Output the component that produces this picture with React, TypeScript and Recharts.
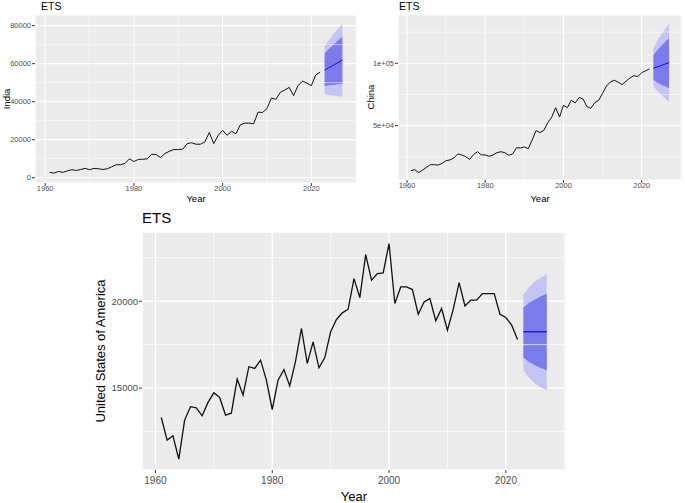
import React from 'react';
import {
  ComposedChart,
  Line,
  Area,
  XAxis,
  YAxis,
  CartesianGrid,
  ReferenceLine,
} from 'recharts';

// history 1961..2022, forecast 2023..2027
const histYears = Array.from({ length: 62 }, (_, i) => 1961 + i);
const forecastYears = [2023, 2024, 2025, 2026, 2027];

const xTicks = [1960, 1980, 2000, 2020];
const xMinor = [1970, 1990, 2010, 2030];

const indiaValues = [
  2800, 2400, 3300, 2800, 3600, 4200, 3800, 4300, 4900, 4200,
  4900, 4700, 4300, 4700, 5700, 6800, 6800, 7500, 9900, 8500,
  9600, 9700, 9900, 12300, 12200, 10600, 12700, 13900, 14800, 14800,
  15000, 17900, 18400, 17600, 17600, 18800, 23800, 17900, 22300, 24900,
  22300, 24400, 23100, 27800, 28700, 28700, 28400, 34500, 34300, 36400,
  41900, 41200, 44900, 46100, 47500, 43200, 48400, 50800, 49800, 48400,
  54100, 55500,
];
const indiaMean = [56600, 57900, 59200, 60600, 61900];
const indiaLo80 = [48200, 48600, 48900, 49100, 49300];
const indiaHi80 = [65400, 67800, 70000, 72200, 74200];
const indiaLo95 = [43900, 43500, 43200, 42900, 42600];
const indiaHi95 = [69300, 72500, 75500, 78300, 80900];
const indiaTicks = [0, 20000, 40000, 60000, 80000];
const indiaMinor = [10000, 30000, 50000, 70000];

const chinaValues = [
  13900, 14700, 12300, 14400, 16600, 18700, 18700, 18400, 19800, 21900,
  22500, 24100, 27300, 26500, 25100, 23000, 26700, 29100, 26500, 26500,
  25400, 26500, 28300, 29100, 28300, 26200, 27300, 32300, 32100, 32900,
  31500, 38500, 46000, 44400, 46300, 52400, 56900, 64400, 56900, 66300,
  64400, 70300, 68200, 72500, 71400, 65200, 63900, 68400, 70300, 75900,
  81800, 85000, 86400, 84800, 82900, 85600, 88200, 90100, 89300, 92500,
  93900, 95500,
];
const chinaMean = [96000, 97100, 98200, 99400, 100500];
const chinaLo80 = [86600, 84600, 82800, 81300, 79900];
const chinaHi80 = [106700, 110500, 114000, 117200, 120000];
const chinaLo95 = [81300, 77700, 74500, 71700, 69200];
const chinaHi95 = [112000, 118000, 123000, 127500, 131500];
const chinaTicks = [50000, 100000];
const chinaMinor = [25000, 75000, 125000];

const usaValues = [
  13310, 12010, 12260, 10920, 13160, 13930, 13870, 13410, 14180, 14730,
  14460, 13450, 13560, 15520, 14600, 16230, 16130, 16610, 15460, 13770,
  15460, 16070, 15130, 16570, 18430, 16420, 17660, 16170, 16760, 18240,
  18950, 19330, 19540, 21300, 20210, 22680, 21210, 21590, 21630, 23310,
  19870, 20820, 20820, 20670, 19250, 19960, 20150, 18870, 19580, 18330,
  19540, 21070, 19730, 20060, 20060, 20440, 20440, 20440, 19250, 19060,
  18620, 17800,
];
const usaMean = [18240, 18240, 18240, 18240, 18240];
const usaLo80 = [16760, 16500, 16300, 16150, 16030];
const usaHi80 = [19640, 19900, 20100, 20280, 20420];
const usaLo95 = [16030, 15600, 15250, 15050, 14880];
const usaHi95 = [20400, 20800, 21150, 21350, 21550];
const usaTicks = [15000, 20000];
const usaMinor = [12500, 17500, 22500];

function buildRows(values: number[], mean: number[], lo80: number[], hi80: number[], lo95: number[], hi95: number[]) {
  const rows: any[] = histYears.map((year, i) => ({ year, actual: values[i] }));
  forecastYears.forEach((year, i) => {
    rows.push({
      year,
      mean: mean[i],
      band80: [lo80[i], hi80[i]],
      band95: [lo95[i], hi95[i]],
    });
  });
  return rows;
}

const sciFormat = (v: number) => {
  const [m, e] = v.toExponential(0).split('e');
  const sign = e.startsWith('-') ? '-' : '+';
  return `${m}e${sign}${e.replace(/[+-]/, '').padStart(2, '0')}`;
};

const BG = '#EBEBEB';
const LIGHT = '#C4C4F4';
const DARK = '#7B7BEC';
const MEAN = '#0E0ED2';
const TICK_TEXT = '#4D4D4D';

interface PanelProps {
  data: any[];
  left: number;
  top: number;
  width: number;
  height: number;
  margin: { top: number; right: number; left: number; bottom: number };
  yWidth: number;
  xHeight: number;
  yDomain: [number, number];
  yTicks: number[];
  yMinor: number[];
  yFormat?: (v: number) => string;
  xFont: number;
  yFont: number;
  xTickMargin: number;
  lineWidth: number;
  majorWidth: number;
  minorWidth: number;
}

function Panel(p: PanelProps) {
  return (
    <div style={{ position: 'absolute', left: p.left, top: p.top }}>
      <ComposedChart width={p.width} height={p.height} data={p.data} margin={p.margin}>
        <CartesianGrid stroke="#fff" strokeWidth={p.majorWidth} fill={BG} fillOpacity={1} />
        {xMinor.map((v) => (
          <ReferenceLine key={`x${v}`} x={v} stroke="#fff" strokeWidth={p.minorWidth} />
        ))}
        {p.yMinor.map((v) => (
          <ReferenceLine key={`y${v}`} y={v} stroke="#fff" strokeWidth={p.minorWidth} />
        ))}
        <XAxis
          dataKey="year"
          type="number"
          domain={[1957.7, 2030.3]}
          ticks={xTicks}
          allowDataOverflow
          height={p.xHeight}
          axisLine={false}
          tickSize={3}
          tickMargin={p.xTickMargin}
          tickLine={{ stroke: '#333' }}
          tick={{ fontSize: p.xFont, fill: TICK_TEXT }}
        />
        <YAxis
          type="number"
          domain={p.yDomain}
          ticks={p.yTicks}
          allowDataOverflow
          width={p.yWidth}
          axisLine={false}
          tickSize={3}
          tickMargin={1}
          tickLine={{ stroke: '#333' }}
          tick={{ fontSize: p.yFont, fill: TICK_TEXT }}
          tickFormatter={p.yFormat}
        />
        <Area
          type="linear"
          dataKey="band95"
          stroke="none"
          fill={LIGHT}
          fillOpacity={1}
          isAnimationActive={false}
        />
        <Area
          type="linear"
          dataKey="band80"
          stroke="none"
          fill={DARK}
          fillOpacity={1}
          isAnimationActive={false}
        />
        <Line
          type="linear"
          dataKey="actual"
          stroke="#111"
          strokeWidth={p.lineWidth}
          dot={false}
          isAnimationActive={false}
        />
        <Line
          type="linear"
          dataKey="mean"
          stroke={MEAN}
          strokeWidth={p.lineWidth}
          dot={false}
          isAnimationActive={false}
        />
      </ComposedChart>
    </div>
  );
}

export default function App() {
  const india = buildRows(indiaValues, indiaMean, indiaLo80, indiaHi80, indiaLo95, indiaHi95);
  const china = buildRows(chinaValues, chinaMean, chinaLo80, chinaHi80, chinaLo95, chinaHi95);
  const usa = buildRows(usaValues, usaMean, usaLo80, usaHi80, usaLo95, usaHi95);

  return (
    <div
      style={{
        position: 'absolute',
        left: 0,
        top: 0,
        width: 685,
        height: 503,
        background: '#fff',
        fontFamily: '"Liberation Sans", Arial, sans-serif',
        overflow: 'hidden',
      }}
    >
      <Panel
        data={india}
        left={0}
        top={0}
        width={360}
        height={205}
        margin={{ top: 15, right: 3, left: 0, bottom: 0 }}
        yWidth={35}
        xHeight={22}
        yDomain={[-2800, 85600]}
        yTicks={indiaTicks}
        yMinor={indiaMinor}
        xFont={7.5}
        yFont={7.5}
        xTickMargin={0}
        lineWidth={1}
        majorWidth={1.1}
        minorWidth={0.55}
      />
      <Panel
        data={china}
        left={345}
        top={0}
        width={340}
        height={205}
        margin={{ top: 15, right: 3, left: 0, bottom: 0 }}
        yWidth={53}
        xHeight={25}
        yDomain={[6400, 138700]}
        yTicks={chinaTicks}
        yMinor={chinaMinor}
        yFormat={sciFormat}
        xFont={7.5}
        yFont={7.5}
        xTickMargin={0}
        lineWidth={1}
        majorWidth={1.1}
        minorWidth={0.55}
      />
      <Panel
        data={usa}
        left={80}
        top={205}
        width={500}
        height={298}
        margin={{ top: 27, right: 14, left: 0, bottom: 0 }}
        yWidth={62}
        xHeight={33}
        yDomain={[10290, 23980]}
        yTicks={usaTicks}
        yMinor={usaMinor}
        xFont={10}
        yFont={9.5}
        xTickMargin={4}
        lineWidth={1.3}
        majorWidth={1.4}
        minorWidth={0.7}
      />
      <svg
        width={685}
        height={503}
        style={{ position: 'absolute', left: 0, top: 0, pointerEvents: 'none' }}
      >
        <text x={41} y={9.5} fontSize={10.5} fill="#000">ETS</text>
        <text x={399} y={9.5} fontSize={10.5} fill="#000">ETS</text>
        <text x={142} y={223} fontSize={15} fill="#000">ETS</text>
        <text x={196} y={202} fontSize={9.5} textAnchor="middle" fill="#000">Year</text>
        <text x={540} y={202} fontSize={9.5} textAnchor="middle" fill="#000">Year</text>
        <text x={354} y={501} fontSize={13} textAnchor="middle" fill="#000">Year</text>
        <text x={10} y={99} fontSize={9.5} textAnchor="middle" fill="#000" transform="rotate(-90 10 99)">India</text>
        <text x={374} y={97} fontSize={9.5} textAnchor="middle" fill="#000" transform="rotate(-90 374 97)">China</text>
        <text x={105} y={351} fontSize={13} textAnchor="middle" fill="#000" transform="rotate(-90 105 351)">United States of America</text>
      </svg>
    </div>
  );
}
